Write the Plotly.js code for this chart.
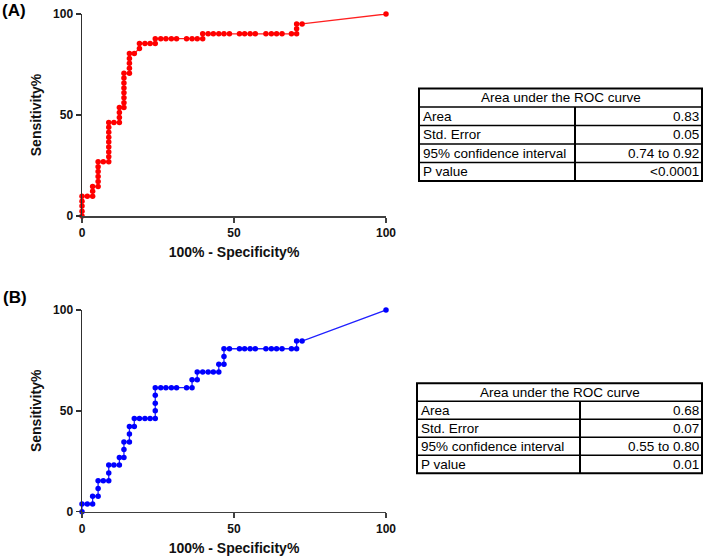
<!DOCTYPE html>
<html>
<head>
<meta charset="utf-8">
<script src="https://cdn.plot.ly/plotly-3.0.1.min.js"></script>
<style>html,body{margin:0;padding:0;background:#fff;}#chart{width:709px;height:559px;}</style>
</head>
<body>
<div id="chart"></div>
<script>
// ROC curve A (red)
var rocA_x = [0,0,0,0,0, 1.75,3.5, 3.5,3.5, 5.3, 5.3,5.3,5.3,5.3,5.3, 7.0,8.8,
  8.8,8.8,8.8,8.8,8.8,8.8,8.8,8.8, 10.5,12.3, 12.3,12.3,12.3, 13.8,
  13.8,13.8,13.8,13.8,13.8,13.8,13.8, 15.6, 15.6,15.6,15.6,15.6, 17.2,
  18.9,18.9, 20.7,22.4,24.1, 24.1,
  25.9,27.6,29.4,31.1,34.4,36.2,37.9,39.7, 39.7,
  41.5,43.2,45.0,46.7,48.5,51.8,53.5,55.3,57.0,60.5,62.3,64.0,65.8,68.9,70.6,
  70.6,70.6, 72.4, 100];
var rocA_y = [0,2.4,4.9,7.3,9.8, 9.8,9.8, 12.2,14.6, 14.6, 17.1,19.5,22.0,24.4,26.8, 26.8,26.8,
  29.3,31.7,34.1,36.6,39.0,41.5,43.9,46.3, 46.3,46.3, 48.8,51.2,53.7, 53.7,
  56.1,58.5,61.0,63.4,65.9,68.3,70.7, 70.7, 73.2,75.6,78.0,80.5, 80.5,
  82.9,85.4, 85.4,85.4,85.4, 87.8,
  87.8,87.8,87.8,87.8,87.8,87.8,87.8,87.8, 90.2,
  90.2,90.2,90.2,90.2,90.2,90.2,90.2,90.2,90.2,90.2,90.2,90.2,90.2,90.2,90.2,
  92.7,95.1, 95.1, 100];

// ROC curve B (blue)
var rocB_x = [0,0, 1.75,3.5, 3.5, 5.3, 5.3,5.3, 7.0,8.8, 8.8,8.8, 10.5,12.3, 12.3, 13.8,
  13.8,13.8, 15.6, 15.6,15.6, 17.2, 17.2, 18.9,20.7,22.4,24.1,
  24.1,24.1,24.1,24.1, 25.9,27.6,29.4,31.1,34.4,36.2, 36.2, 37.9, 37.9,
  39.7,41.5,43.2,45.0, 45.0, 46.7, 46.7,46.7,
  48.5,51.8,53.5,55.3,57.0,60.5,62.3,64.0,65.8,68.9,70.6, 70.6, 72.4, 100];
var rocB_y = [0,3.8, 3.8,3.8, 7.7, 7.7, 11.5,15.4, 15.4,15.4, 19.2,23.1, 23.1,23.1, 26.9, 26.9,
  30.8,34.6, 34.6, 38.5,42.3, 42.3, 46.2, 46.2,46.2,46.2,46.2,
  50.0,53.8,57.7,61.5, 61.5,61.5,61.5,61.5,61.5,61.5, 65.4, 65.4, 69.2,
  69.2,69.2,69.2,69.2, 73.1, 73.1, 76.9,80.8,
  80.8,80.8,80.8,80.8,80.8,80.8,80.8,80.8,80.8,80.8,80.8, 84.6, 84.6, 100];

var axisTicks = [0, 50, 100];
var xTitle = "100% - Specificity%";
var yTitle = "Sensitivity%";
var panelLabels = ["(A)", "(B)"];

var tableHeader = "Area under the ROC curve";
var tableLabels = ["Area", "Std. Error", "95% confidence interval", "P value"];
var tableA = ["0.83", "0.05", "0.74 to 0.92", "<0.0001"];
var tableB = ["0.68", "0.07", "0.55 to 0.80", "0.01"];

var W = 709, H = 559;
function px(x){ return x / W; }
function py(y){ return 1 - y / H; }

var traces = [
  {x: rocA_x, y: rocA_y, xaxis: 'x', yaxis: 'y', type: 'scatter', mode: 'lines+markers',
   line: {color: '#ff2020', width: 1.3}, marker: {color: '#ff0000', size: 5.5},
   cliponaxis: false, showlegend: false, hoverinfo: 'x+y'},
  {x: rocB_x, y: rocB_y, xaxis: 'x2', yaxis: 'y2', type: 'scatter', mode: 'lines+markers',
   line: {color: '#2020ff', width: 1.3}, marker: {color: '#0000ff', size: 5.5},
   cliponaxis: false, showlegend: false, hoverinfo: 'x+y'}
];

var tickFont = {family: 'Liberation Sans, Arial, sans-serif', size: 12, color: '#111', weight: 'bold'};
var titleFont = {family: 'Liberation Sans, Arial, sans-serif', size: 14, color: '#111', weight: 'bold'};

function xAxis(anchor){
  return {domain: [px(82), px(386)], range: [0, 100], anchor: anchor, tickvals: axisTicks,
    showline: true, linecolor: '#404040', linewidth: 1.5, ticks: 'outside', ticklen: 5, tickwidth: 1.5,
    tickcolor: '#404040', showgrid: false, zeroline: false, tickfont: tickFont, automargin: false,
    title: {text: xTitle, font: titleFont, standoff: 8}};
}
function yAxis(anchor, top, bottom){
  return {domain: [py(bottom), py(top)], range: [0, 100], anchor: anchor, tickvals: axisTicks,
    showline: true, linecolor: '#303030', linewidth: 1.5, ticks: 'outside', ticklen: 5, tickwidth: 1.5,
    tickcolor: '#303030', showgrid: false, zeroline: false, tickfont: tickFont, automargin: false,
    title: {text: yTitle, font: titleFont, standoff: 8}};
}

var shapes = [];
var annotations = [];
var cellFont = {family: 'Liberation Sans, Arial, sans-serif', size: 13.5, color: '#000'};

function drawTable(left, right, top, rowH, divider, labels, values){
  var nRows = labels.length + 1;
  var bottom = top + rowH * nRows;
  // outer border
  shapes.push({type: 'rect', xref: 'paper', yref: 'paper', x0: px(left), x1: px(right), y0: py(bottom), y1: py(top),
    line: {color: '#000', width: 2}});
  // row lines
  for (var r = 1; r < nRows; r++){
    var yy = top + rowH * r;
    shapes.push({type: 'line', xref: 'paper', yref: 'paper', x0: px(left), x1: px(right), y0: py(yy), y1: py(yy),
      line: {color: '#000', width: 1.5}});
  }
  // column divider (below header)
  shapes.push({type: 'line', xref: 'paper', yref: 'paper', x0: px(divider), x1: px(divider), y0: py(bottom), y1: py(top + rowH),
    line: {color: '#000', width: 2}});
  annotations.push({xref: 'paper', yref: 'paper', x: px((left + right) / 2), y: py(top + rowH / 2),
    text: tableHeader, showarrow: false, xanchor: 'center', yanchor: 'middle', font: cellFont});
  for (var i = 0; i < labels.length; i++){
    var yc = top + rowH * (i + 1.5);
    annotations.push({xref: 'paper', yref: 'paper', x: px(left + 1.5), y: py(yc), text: labels[i],
      showarrow: false, xanchor: 'left', yanchor: 'middle', font: cellFont});
    annotations.push({xref: 'paper', yref: 'paper', x: px(right - 1.5), y: py(yc), text: values[i],
      showarrow: false, xanchor: 'right', yanchor: 'middle', font: cellFont});
  }
}
drawTable(419, 702, 88.5, 18.5, 575, tableLabels, tableA);
drawTable(417, 702, 383.3, 18, 580, tableLabels, tableB);

var panelFont = {family: 'Liberation Sans, Arial, sans-serif', size: 17, color: '#000', weight: 'bold'};
annotations.push({xref: 'paper', yref: 'paper', x: px(0), y: py(10), text: panelLabels[0], showarrow: false,
  xanchor: 'left', yanchor: 'middle', font: panelFont});
annotations.push({xref: 'paper', yref: 'paper', x: px(1), y: py(297), text: panelLabels[1], showarrow: false,
  xanchor: 'left', yanchor: 'middle', font: panelFont});

var layout = {
  width: W, height: H,
  margin: {l: 0, r: 0, t: 0, b: 0, pad: 0},
  paper_bgcolor: '#fff', plot_bgcolor: '#fff',
  showlegend: false,
  xaxis: xAxis('y'),
  yaxis: yAxis('x', 14, 216),
  xaxis2: xAxis('y2'),
  yaxis2: yAxis('x2', 310, 511.7),
  shapes: shapes,
  annotations: annotations
};

Plotly.newPlot('chart', traces, layout, {displayModeBar: false, staticPlot: true});
</script>
</body>
</html>
